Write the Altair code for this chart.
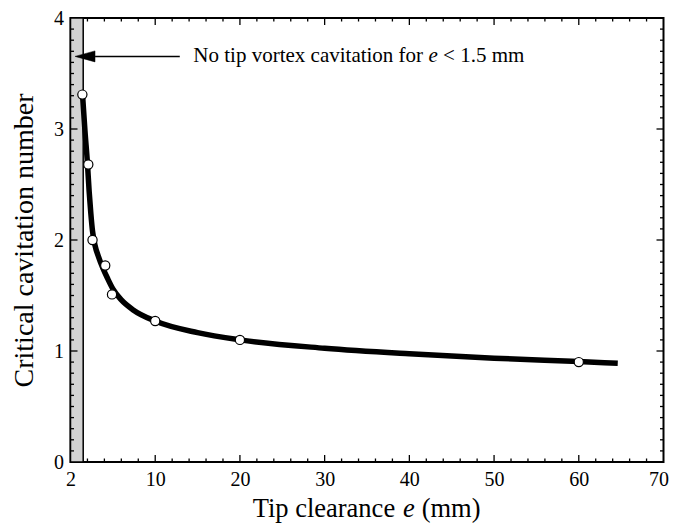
import altair as alt
import pandas as pd

# ---------------- data ----------------
e_measured = [1.4, 2.1, 2.6, 4.1, 4.9, 10, 20, 60]
sigma_measured = [3.31, 2.68, 2.00, 1.77, 1.51, 1.27, 1.10, 0.90]

e_curve = [1.42, 1.7, 2.0, 2.2, 2.4, 2.6, 2.9, 3.3, 3.8, 4.4, 5.0, 6.0, 7.4, 10, 15, 20, 30, 40, 50, 60, 64.6]
sigma_curve = [3.31, 2.99, 2.69, 2.44, 2.24, 2.08, 1.95, 1.85, 1.75, 1.65, 1.56, 1.46, 1.37, 1.27, 1.165, 1.10, 1.025, 0.975, 0.935, 0.905, 0.89]

band_from = [0]
band_to = [1.5]

x_major = [0, 10, 20, 30, 40, 50, 60, 70]
x_labels = ["2", "10", "20", "30", "40", "50", "60", "70"]
x_minor = [v for v in range(2, 70, 2) if v % 10 != 0]
y_major = [0, 1, 2, 3, 4]
y_minor = [round(i * 0.1, 1) for i in range(1, 40) if i % 10 != 0]

# annotation (data units)
arrow_shaft = {"x": [2.9], "x2": [12.9], "y": [3.654]}
arrow_head = {"x": [1.715], "y": [3.654]}
note_parts = ["No tip vortex cavitation for ", "e", "< 1.5 mm"]
note_x = [14.5, 42.25, 43.98]
note_y = 3.604
note_italic = [False, True, False]

xtitle_parts = ["Tip clearance", "e", "(mm)"]
xtitle_x = [21.5, 39.25, 41.45]
xtitle_italic = [False, True, False]

# ---------------- layout ----------------
W, H = 593, 444
FONT = "Liberation Serif"
MAJ, MIN = 7, 3.5

x_scale = alt.Scale(domain=[0, 70], nice=False, zero=False)
y_scale = alt.Scale(domain=[0, 4], nice=False, zero=False)

label_expr_x = " : ".join(
    [f"datum.value == {v} ? '{l}'" for v, l in zip(x_major, x_labels)] + ["datum.label"]
)

x_axis = alt.Axis(values=x_major, labelExpr=label_expr_x, ticks=False, tickSize=0,
                  domain=False, grid=False, title=None, labelFontSize=20,
                  labelPadding=7, labelFlush=False,
                  labelAlign={"condition": {"test": "datum.value == 70", "value": "right"},
                              "value": "center"},
                  labelOffset={"condition": {"test": "datum.value == 70", "value": 5},
                               "value": 0})
y_axis = alt.Axis(values=y_major, ticks=False, tickSize=0, domain=False, grid=False,
                  title="Critical cavitation number", titleFontSize=28,
                  titleFontWeight="normal", titlePadding=15, labelFontSize=20,
                  labelPadding=7, labelFlush=False)


def X(field):
    return alt.X(field, type="quantitative", scale=x_scale, axis=x_axis)


def Y(field):
    return alt.Y(field, type="quantitative", scale=y_scale, axis=y_axis)


layers = []

# shaded band e < 1.5 mm
band_df = pd.DataFrame({"x": band_from, "x2": band_to, "y": [0], "y2": [4]})
layers.append(
    alt.Chart(band_df).mark_rect(fill="#d2d2d2", stroke="black", strokeWidth=1.5)
    .encode(x=X("x"), x2="x2", y=Y("y"), y2="y2")
)


# ticks (pointing inward on all four sides)
def xticks(vals, length):
    df = pd.DataFrame({"v": vals})
    bottom = alt.Chart(df).mark_rule(color="black", strokeWidth=1.3).encode(
        x=X("v"), y=alt.value(H), y2=alt.value(H - length))
    top = alt.Chart(df).mark_rule(color="black", strokeWidth=1.3).encode(
        x=X("v"), y=alt.value(0), y2=alt.value(length))
    return [bottom, top]


def yticks(vals, length):
    df = pd.DataFrame({"v": vals})
    left = alt.Chart(df).mark_rule(color="black", strokeWidth=1.3).encode(
        y=Y("v"), x=alt.value(0), x2=alt.value(length))
    right = alt.Chart(df).mark_rule(color="black", strokeWidth=1.3).encode(
        y=Y("v"), x=alt.value(W), x2=alt.value(W - length))
    return [left, right]


layers += xticks(x_major[1:-1], MAJ) + xticks(x_minor, MIN)
layers += yticks(y_major[1:-1], MAJ) + yticks(y_minor, MIN)

# fitted curve
curve_df = pd.DataFrame({"e": e_curve, "s": sigma_curve})
layers.append(
    alt.Chart(curve_df).mark_line(color="black", strokeWidth=5.5, interpolate="monotone",
                                  strokeCap="butt")
    .encode(x=X("e"), y=Y("s"))
)

# measured points
pts_df = pd.DataFrame({"e": e_measured, "s": sigma_measured})
layers.append(
    alt.Chart(pts_df).mark_point(shape="circle", filled=True, fill="white", stroke="black",
                                 strokeWidth=1.2, size=85, opacity=1)
    .encode(x=X("e"), y=Y("s"))
)

# arrow
shaft_df = pd.DataFrame(arrow_shaft)
layers.append(
    alt.Chart(shaft_df).mark_rule(color="black", strokeWidth=1.5)
    .encode(x=X("x"), x2="x2", y=Y("y"))
)
head_df = pd.DataFrame(arrow_head)
layers.append(
    alt.Chart(head_df).mark_point(shape="M-1,0L1,-0.55L1,0.55Z", filled=True, fill="black",
                                  stroke="black", strokeWidth=0.5, size=400, opacity=1)
    .encode(x=X("x"), y=Y("y"))
)

# annotation text
for txt, xv, it in zip(note_parts, note_x, note_italic):
    df = pd.DataFrame({"x": [xv], "y": [note_y], "t": [txt]})
    layers.append(
        alt.Chart(df).mark_text(font=FONT, fontSize=21, fontStyle="italic" if it else "normal",
                                align="left", baseline="alphabetic", color="black")
        .encode(x=X("x"), y=Y("y"), text="t:N")
    )

# x-axis title with italic e
for txt, xv, it in zip(xtitle_parts, xtitle_x, xtitle_italic):
    df = pd.DataFrame({"x": [xv], "t": [txt]})
    layers.append(
        alt.Chart(df).mark_text(font=FONT, fontSize=26.5, fontStyle="italic" if it else "normal",
                                align="left", baseline="alphabetic", color="black")
        .encode(x=X("x"), y=alt.value(H + 55), text="t:N")
    )

chart = (
    alt.layer(*layers)
    .properties(width=W, height=H, autosize=alt.AutoSizeParams(type="none"),
                padding={"left": 62.5, "top": 10, "right": 5.5, "bottom": 61})
    .configure_view(stroke="black", strokeWidth=2)
    .configure_axis(labelFont=FONT, titleFont=FONT, labelColor="black", titleColor="black")
)

chart.save("out.html", embed_options={"renderer": "svg", "actions": False})
